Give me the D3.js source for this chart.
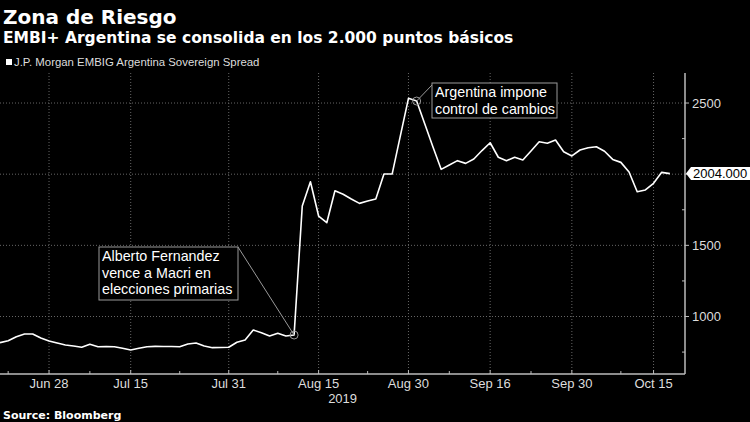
<!DOCTYPE html>
<html>
<head>
<meta charset="utf-8">
<script src="https://cdn.jsdelivr.net/npm/d3@7"></script>
<style>
  html, body { margin: 0; padding: 0; background: #000; }
  svg { display: block; }
</style>
</head>
<body>
<svg id="chart" width="750" height="422"></svg>
<script>
// ---------- DATA ----------
const title = "Zona de Riesgo";
const subtitle = "EMBI+ Argentina se consolida en los 2.000 puntos básicos";
const seriesName = "J.P. Morgan EMBIG Argentina Sovereign Spread";
const source = "Source: Bloomberg";

// trading days (bond market) from 2019-06-20 to 2019-10-17
const startDate = "2019-06-20";
const endDate = "2019-10-17";
const holidays = ["2019-07-04", "2019-09-02", "2019-10-14"];

const spread = [
  816, 830, 858, 877, 877, 849, 828, 814, 800, 793,
  784, 805, 788, 789, 788, 777, 765, 777, 788, 790,
  789, 789, 788, 807, 814, 793, 781, 782, 784, 819,
  835, 905, 886, 863, 882, 863, 870, 1776, 1947, 1706,
  1659, 1884, 1859, 1826, 1795, 1811, 1826, 2001, 2001, 2268,
  2533, 2514, 2353, 2191, 2034, 2064, 2095, 2076, 2107, 2166,
  2221, 2119, 2095, 2119, 2100, 2163, 2228, 2217, 2240, 2158,
  2128, 2170, 2186, 2193, 2161, 2104, 2083, 2015, 1877, 1889,
  1936, 2013, 2004
];

const xTickDates = ["2019-06-28", "2019-07-15", "2019-07-31", "2019-08-15", "2019-08-30", "2019-09-16", "2019-09-30", "2019-10-15"];
const xTickLabels = ["Jun 28", "Jul 15", "Jul 31", "Aug 15", "Aug 30", "Sep 16", "Sep 30", "Oct 15"];
const xMinorTickDates = ["2019-06-21", "2019-07-08", "2019-07-23", "2019-08-08", "2019-08-23", "2019-09-09", "2019-09-23", "2019-10-08"];
const yearLabel = "2019";
const yTicks = [1000, 1500, 2000, 2500];
const yMinorTicks = [750, 1250, 1750, 2250];
const lastValueLabel = "2004.000";

const annotations = [
  { date: "2019-08-12", lines: ["Alberto Fernandez", "vence a Macri en", "elecciones primarias"] },
  { date: "2019-09-03", lines: ["Argentina impone", "control de cambios"] }
];

// ---------- BUILD ----------
const fmt = d3.timeFormat("%Y-%m-%d");
const parse = d3.timeParse("%Y-%m-%d");
const tradingDays = d3.timeDay.range(parse(startDate), d3.timeDay.offset(parse(endDate), 1))
  .filter(d => d.getDay() !== 0 && d.getDay() !== 6 && !holidays.includes(fmt(d)))
  .map(fmt);
const idxOf = s => tradingDays.indexOf(s);
const data = spread.map((v, i) => ({ i, date: tradingDays[i], v }));

const svg = d3.select("#chart");
const W = 750, H = 422;
const plot = { left: 0, right: 685, top: 73, bottom: 374 };

svg.append("rect").attr("width", W).attr("height", H).attr("fill", "#000");

const x = d3.scaleLinear().domain([0, 83.85]).range([plot.left, plot.right]);
const y = d3.scaleLinear().domain([596, 2711]).range([plot.bottom, plot.top]);

// titles
svg.append("text").attr("x", 3).attr("y", 24)
  .attr("font-family", "DejaVu Sans").attr("font-weight", "bold").attr("font-size", 20)
  .attr("fill", "#fff").text(title);
svg.append("text").attr("x", 3).attr("y", 43)
  .attr("font-family", "DejaVu Sans").attr("font-weight", "bold").attr("font-size", 15.5)
  .attr("fill", "#fff").text(subtitle);

// legend
svg.append("rect").attr("x", 6).attr("y", 59).attr("width", 6).attr("height", 6).attr("fill", "#fff");
svg.append("text").attr("x", 14).attr("y", 66)
  .attr("font-family", "Liberation Sans").attr("font-size", 11.4)
  .attr("fill", "#ddd").text(seriesName);

// gridlines
const grid = svg.append("g");
grid.selectAll("line.h").data(yTicks).enter().append("line")
  .attr("x1", plot.left).attr("x2", plot.right)
  .attr("y1", d => y(d)).attr("y2", d => y(d))
  .attr("stroke", "#666").attr("stroke-width", 1).attr("stroke-dasharray", "1,2");
grid.selectAll("line.v").data(xTickDates).enter().append("line")
  .attr("x1", d => x(idxOf(d))).attr("x2", d => x(idxOf(d)))
  .attr("y1", plot.top).attr("y2", plot.bottom)
  .attr("stroke", "#666").attr("stroke-width", 1).attr("stroke-dasharray", "1,2");

// x axis
const xAxis = svg.append("g");
xAxis.append("line").attr("x1", plot.left).attr("x2", plot.right)
  .attr("y1", plot.bottom).attr("y2", plot.bottom).attr("stroke", "#bbb").attr("stroke-width", 1.5);
xAxis.selectAll("line.maj").data(xTickDates).enter().append("line")
  .attr("x1", d => x(idxOf(d))).attr("x2", d => x(idxOf(d)))
  .attr("y1", plot.bottom - 4).attr("y2", plot.bottom).attr("stroke", "#bbb");
xAxis.selectAll("line.min").data(xMinorTickDates).enter().append("line")
  .attr("x1", d => x(idxOf(d))).attr("x2", d => x(idxOf(d)))
  .attr("y1", plot.bottom - 3).attr("y2", plot.bottom).attr("stroke", "#bbb");
xAxis.selectAll("text").data(xTickDates).enter().append("text")
  .attr("x", d => x(idxOf(d))).attr("y", 388)
  .attr("text-anchor", "middle")
  .attr("font-family", "Liberation Sans").attr("font-size", 13)
  .attr("fill", "#ddd").text((d, i) => xTickLabels[i]);
svg.append("text").attr("x", x(idxOf("2019-08-15")) + 24).attr("y", 403)
  .attr("text-anchor", "middle")
  .attr("font-family", "Liberation Sans").attr("font-size", 13)
  .attr("fill", "#ddd").text(yearLabel);

// y axis (right)
const yAxis = svg.append("g");
yAxis.append("line").attr("x1", plot.right).attr("x2", plot.right)
  .attr("y1", plot.top).attr("y2", plot.bottom).attr("stroke", "#bbb").attr("stroke-width", 1.5);
yAxis.selectAll("line.maj").data(yTicks).enter().append("line")
  .attr("x1", plot.right).attr("x2", plot.right + 4)
  .attr("y1", d => y(d)).attr("y2", d => y(d)).attr("stroke", "#bbb");
yAxis.selectAll("line.min").data(yMinorTicks).enter().append("line")
  .attr("x1", plot.right - 3).attr("x2", plot.right)
  .attr("y1", d => y(d)).attr("y2", d => y(d)).attr("stroke", "#bbb");
yAxis.selectAll("text").data(yTicks.filter(t => t !== 2000)).enter().append("text")
  .attr("x", 692).attr("y", d => y(d) + 4.5)
  .attr("font-family", "Liberation Sans").attr("font-size", 13)
  .attr("fill", "#ddd").text(d => d);

// line
const line = d3.line().x(d => x(d.i)).y(d => y(d.v));
svg.append("path").datum(data).attr("d", line)
  .attr("fill", "none").attr("stroke", "#fff").attr("stroke-width", 1.6)
  .attr("stroke-linejoin", "round");

// last value label
const last = data[data.length - 1];
const ly = y(last.v);
svg.append("path")
  .attr("d", `M${plot.right + 1},${ly} L${plot.right + 6},${ly - 6.5} L${W},${ly - 6.5} L${W},${ly + 6.5} L${plot.right + 6},${ly + 6.5} Z`)
  .attr("fill", "#fff");
svg.append("text").attr("x", 693).attr("y", ly + 4.5)
  .attr("font-family", "Liberation Sans").attr("font-size", 13)
  .attr("fill", "#000").text(lastValueLabel);

// annotations
const boxes = [
  { x: 99, y: 247, w: 139, h: 53, anchor: "right" },
  { x: 432, y: 83, w: 125, h: 35, anchor: "left" }
];
annotations.forEach((a, k) => {
  const p = data[idxOf(a.date)];
  const cx = x(p.i), cy = y(p.v);
  const b = boxes[k];
  const ax = b.anchor === "right" ? b.x + b.w : b.x;
  const ay = b.anchor === "right" ? b.y : b.y + 2;
  svg.append("line").attr("x1", ax).attr("y1", ay).attr("x2", cx).attr("y2", cy)
    .attr("stroke", "#999").attr("stroke-width", 1);
  svg.append("circle").attr("cx", cx).attr("cy", cy).attr("r", 4)
    .attr("fill", "none").attr("stroke", "#999").attr("stroke-width", 1);
  svg.append("rect").attr("x", b.x).attr("y", b.y).attr("width", b.w).attr("height", b.h)
    .attr("fill", "#000").attr("stroke", "#999").attr("stroke-width", 1);
  a.lines.forEach((t, j) => {
    svg.append("text").attr("x", b.x + 3).attr("y", b.y + 14 + j * 16.5)
      .attr("font-family", "Liberation Sans").attr("font-size", 14.3)
      .attr("fill", "#fff").text(t);
  });
});

// source
svg.append("text").attr("x", 3).attr("y", 419)
  .attr("font-family", "DejaVu Sans").attr("font-weight", "bold").attr("font-size", 11)
  .attr("fill", "#fff").text(source);
</script>
</body>
</html>
